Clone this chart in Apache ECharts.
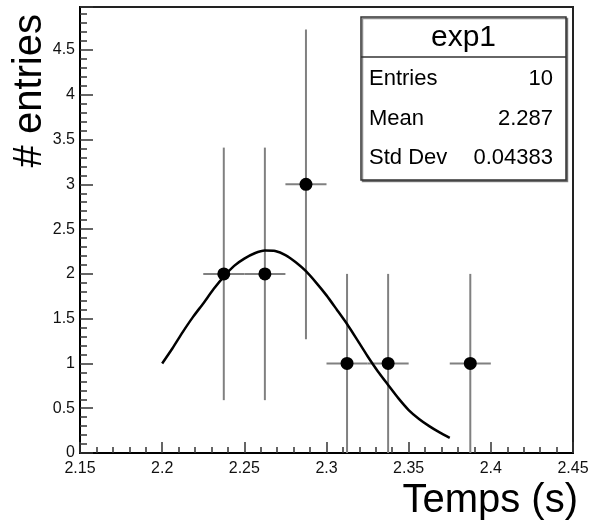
<!DOCTYPE html>
<html>
<head>
<meta charset="utf-8">
<title>exp1</title>
<script src="https://cdn.jsdelivr.net/npm/echarts@6/dist/echarts.min.js"></script>
<style>
	html, body { margin: 0; padding: 0; background: #fff; }
	#chart-holder { width: 593px; height: 523px; }
</style>
</head>
<body>
<div id="chart-holder"></div>
<script type="text/javascript">
// histogram bins (centre, count, error)
var binCenters = [2.2375, 2.2625, 2.2875, 2.3125, 2.3375, 2.3875];
var binCounts = [2, 2, 3, 1, 1, 1];
var binErrors = [1.41, 1.41, 1.73, 1, 1, 1];
var binHalfWidth = 0.0125;

// fitted curve
var fitX = [2.2, 2.2063, 2.2125, 2.2188, 2.225, 2.2313, 2.2375, 2.2438, 2.25, 2.2563,
	2.2625, 2.2688, 2.275, 2.2813, 2.2875, 2.2938, 2.3, 2.3063, 2.3125, 2.3188,
	2.325, 2.3313, 2.3375, 2.3438, 2.35, 2.3563, 2.3625, 2.3688, 2.375];
var fitY = [1.00, 1.17, 1.35, 1.52, 1.67, 1.83, 1.97, 2.09, 2.17, 2.23,
	2.26, 2.255, 2.21, 2.13, 2.03, 1.90, 1.76, 1.60, 1.44, 1.26,
	1.08, 0.91, 0.76, 0.61, 0.48, 0.38, 0.30, 0.23, 0.17];

// stats box
var statTitle = 'exp1';
var statLabels = ['Entries', 'Mean', 'Std Dev'];
var statValues = ['10', '2.287', '0.04383'];

var fontFamily = '"Liberation Sans", Arial, Helvetica, sans-serif';

var histData = [];
for (var i = 0; i < binCenters.length; i++) {
	histData.push([binCenters[i], binCounts[i], binErrors[i]]);
}
var fitData = [];
for (var j = 0; j < fitX.length; j++) {
	fitData.push([fitX[j], fitY[j]]);
}

var statGraphics = [
	{
		type: 'rect',
		shape: {x: 361, y: 17, width: 205, height: 163},
		style: {fill: '#fff', stroke: '#333', lineWidth: 1.5, shadowColor: 'rgba(0,0,0,0.45)', shadowOffsetX: 1.5, shadowOffsetY: 1.5},
		z: 10
	},
	{
		type: 'line',
		shape: {x1: 361, y1: 57, x2: 566, y2: 57},
		style: {stroke: '#333', lineWidth: 1.5},
		z: 11
	},
	{
		type: 'text',
		x: 463.5, y: 38,
		style: {text: statTitle, font: '30px ' + fontFamily, fill: '#000', textAlign: 'center', textVerticalAlign: 'middle'},
		z: 11
	},
	{
		type: 'text',
		x: 10, y: 14,
		rotation: Math.PI / 2,
		style: {text: '# entries', font: '40px ' + fontFamily, fill: '#000', textAlign: 'right', textVerticalAlign: 'top'},
		z: 11
	},
	{
		type: 'text',
		x: 578, y: 501,
		style: {text: 'Temps (s)', font: '40px ' + fontFamily, fill: '#000', textAlign: 'right', textVerticalAlign: 'middle'},
		z: 11
	}
];
for (var k = 0; k < statLabels.length; k++) {
	statGraphics.push({
		type: 'text',
		x: 369, y: 79 + k * 39.5,
		style: {text: statLabels[k], font: '22px ' + fontFamily, fill: '#000', textAlign: 'left', textVerticalAlign: 'middle'},
		z: 11
	});
	statGraphics.push({
		type: 'text',
		x: 553, y: 79 + k * 39.5,
		style: {text: statValues[k], font: '22px ' + fontFamily, fill: '#000', textAlign: 'right', textVerticalAlign: 'middle'},
		z: 11
	});
}

var option = {
	animation: false,
	backgroundColor: '#fff',
	textStyle: {fontFamily: fontFamily},
	grid: {
		left: 80,
		right: 20,
		top: 7,
		bottom: 70,
		show: true,
		borderColor: '#222',
		borderWidth: 2
	},
	xAxis: {
		type: 'value',
		min: 2.15,
		max: 2.45,
		interval: 0.05,
		axisLine: {lineStyle: {color: '#000', width: 2}},
		axisTick: {inside: true, length: 11, lineStyle: {color: '#333', width: 1.5}},
		minorTick: {show: true, splitNumber: 5, length: 6, lineStyle: {color: '#333', width: 1.5}},
		axisLabel: {fontSize: 16, color: '#111', margin: 8, fontFamily: fontFamily},
		splitLine: {show: false}
	},
	yAxis: {
		type: 'value',
		min: 0,
		max: 4.98,
		interval: 0.5,
		axisLine: {show: true, lineStyle: {color: '#000', width: 2}},
		axisTick: {show: true, inside: true, length: 13, lineStyle: {color: '#333', width: 1.5}},
		minorTick: {show: true, splitNumber: 5, length: 7, lineStyle: {color: '#333', width: 1.5}},
		axisLabel: {
			fontSize: 16, color: '#111', margin: 5, fontFamily: fontFamily,
			formatter: function (v) {
				return Math.abs(v * 2 - Math.round(v * 2)) > 1e-6 ? '' : String(v);
			}
		},
		splitLine: {show: false}
	},
	series: [
		{
			name: 'errors',
			type: 'custom',
			data: histData,
			renderItem: function (params, api) {
				var x = api.value(0), y = api.value(1), e = api.value(2);
				var pL = api.coord([x - binHalfWidth, y]);
				var pR = api.coord([x + binHalfWidth, y]);
				var pT = api.coord([x, y + e]);
				var pB = api.coord([x, Math.max(0, y - e)]);
				var st = {stroke: '#808080', lineWidth: 2};
				return {
					type: 'group',
					children: [
						{type: 'line', shape: {x1: pL[0], y1: pL[1], x2: pR[0], y2: pR[1]}, style: st},
						{type: 'line', shape: {x1: pT[0], y1: pT[1], x2: pB[0], y2: pB[1]}, style: st}
					]
				};
			},
			z: 2
		},
		{
			name: 'exp1',
			type: 'scatter',
			data: histData,
			symbol: 'circle',
			symbolSize: 13,
			itemStyle: {color: '#000', opacity: 1},
			z: 3
		},
		{
			name: 'fit',
			type: 'line',
			data: fitData,
			smooth: 0.2,
			showSymbol: false,
			lineStyle: {color: '#000', width: 2.5},
			z: 4
		}
	],
	graphic: statGraphics
};

var myChart = echarts.init(document.getElementById('chart-holder'));
myChart.setOption(option);
</script>
</body>
</html>
